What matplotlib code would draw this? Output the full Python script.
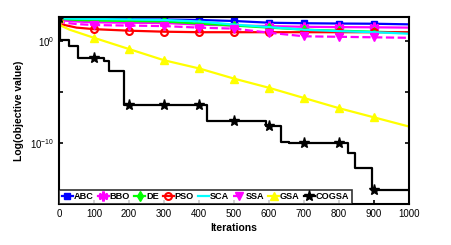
import numpy as np
import matplotlib
matplotlib.use("Agg")
import matplotlib.pyplot as plt

plt.rcParams['font.family'] = ['Liberation Sans', 'DejaVu Sans']

# iterations and log10(objective value)
it_smooth = [0, 10, 50, 100, 200, 300, 400, 500, 600, 700, 800, 900, 1000]
abc_log = [2.25, 2.2, 2.18, 2.15, 2.12, 2.1, 2.05, 1.95, 1.78, 1.73, 1.7, 1.68, 1.62]
bbo_log = [2.25, 2.0, 1.9, 1.82, 1.78, 1.75, 1.6, 1.5, 1.45, 1.38, 1.35, 1.33, 1.3]
de_log = [2.25, 2.15, 2.05, 2.0, 1.95, 1.9, 1.7, 1.5, 1.3, 1.1, 1.0, 0.9, 0.8]
pso_log = [2.25, 1.6, 1.3, 1.15, 1.0, 0.9, 0.85, 0.85, 0.85, 0.85, 0.85, 0.85, 0.85]
sca_log = [2.25, 2.2, 2.17, 2.15, 2.1, 2.05, 1.9, 1.6, 1.35, 1.1, 0.95, 0.85, 0.7]
ssa_log = [2.25, 1.8, 1.65, 1.55, 1.5, 1.45, 1.3, 1.2, 0.8, 0.45, 0.4, 0.35, 0.3]

it_gsa = [0, 5, 30, 100, 200, 300, 400, 500, 600, 700, 800, 900, 1000]
gsa_log = [2.25, 1.5, 1.1, 0.3, -0.8, -1.9, -2.7, -3.7, -4.6, -5.6, -6.6, -7.5, -8.4]

it_cogsa = [0, 2, 29, 54, 100, 129, 143, 186, 200, 300, 400, 422, 500, 592, 600,
            634, 657, 700, 800, 825, 846, 894, 900, 1000]
cogsa_log = [2.25, 0.1, -0.5, -1.7, -1.7, -2.0, -3.0, -6.3, -6.3, -6.3, -6.3, -7.85, -7.85,
             -8.3, -8.3, -9.87, -10.0, -10.0, -10.0, -11.0, -12.5, -14.6, -14.6, -14.6]

labels = ['ABC', 'BBO', 'DE', 'PSO', 'SCA', 'SSA', 'GSA', 'COGSA']

fig = plt.figure(figsize=(4.52, 2.45), dpi=100)
ax = fig.add_axes([0.1305, 0.167, 0.7745, 0.764])


def marks(xs):
    return [i for i, v in enumerate(xs) if v % 100 == 0 and v < 1000]


lw = 1.6
ms = 5
ax.plot(it_smooth, 10.0 ** np.array(abc_log), color='#0000FF', lw=lw, marker='s', ms=ms,
        markevery=marks(it_smooth), label=labels[0])
ax.plot(it_smooth, 10.0 ** np.array(bbo_log), color='#FF00FF', lw=lw, marker=(6, 2, 0), ms=ms + 2,
        mew=2, markevery=marks(it_smooth), label=labels[1])
ax.plot(it_smooth, 10.0 ** np.array(de_log), color='#00FF00', lw=lw, marker='d', ms=ms,
        markevery=marks(it_smooth), label=labels[2])
ax.plot(it_smooth, 10.0 ** np.array(pso_log), color='#FF0000', lw=lw, marker='o', ms=ms,
        mfc='none', mew=1.5, markevery=marks(it_smooth), label=labels[3])
ax.plot(it_smooth, 10.0 ** np.array(sca_log), color='#00FFFF', lw=lw, label=labels[4])
ax.plot(it_smooth, 10.0 ** np.array(ssa_log), color='#FF00FF', lw=lw, ls='--', marker='v', ms=ms + 1,
        markevery=marks(it_smooth), label=labels[5])
ax.plot(it_gsa, 10.0 ** np.array(gsa_log), color='#FFFF00', lw=lw, marker='^', ms=ms + 1,
        markevery=marks(it_gsa), label=labels[6])
ax.plot(it_cogsa, 10.0 ** np.array(cogsa_log), color='black', lw=lw, drawstyle='steps-post',
        marker='*', ms=ms + 3, markevery=marks(it_cogsa), label=labels[7])

ax.set_yscale('log')
ax.set_xlim(0, 1000)
ax.set_ylim(10 ** -16.0, 10 ** 2.35)
ax.set_xticks(range(0, 1001, 100))
ax.set_yticks([1e-10, 1e-5, 1e0])
ax.set_yticklabels(['$\\mathregular{10^{-10}}$', '', '$\\mathregular{10^{0}}$'])
ax.yaxis.set_minor_locator(matplotlib.ticker.NullLocator())
ax.tick_params(direction='in', length=3, width=1.2, labelsize=7, right=True, top=False)
for s in ax.spines.values():
    s.set_linewidth(1.5)
ax.set_xlabel('Iterations', fontsize=7.5, fontweight='bold', labelpad=3)
ax.set_ylabel('Log(objective value)', fontsize=7.5, fontweight='bold', labelpad=4)

leg = ax.legend(loc='lower left', ncol=8, frameon=True, fancybox=False,
                edgecolor='black', handlelength=1.2, handletextpad=0.1, columnspacing=0.45,
                borderpad=0.25, borderaxespad=0.05, prop={'weight': 'bold', 'size': 6.6})
leg.get_frame().set_linewidth(1.2)

fig.savefig('out.png', dpi=100)
